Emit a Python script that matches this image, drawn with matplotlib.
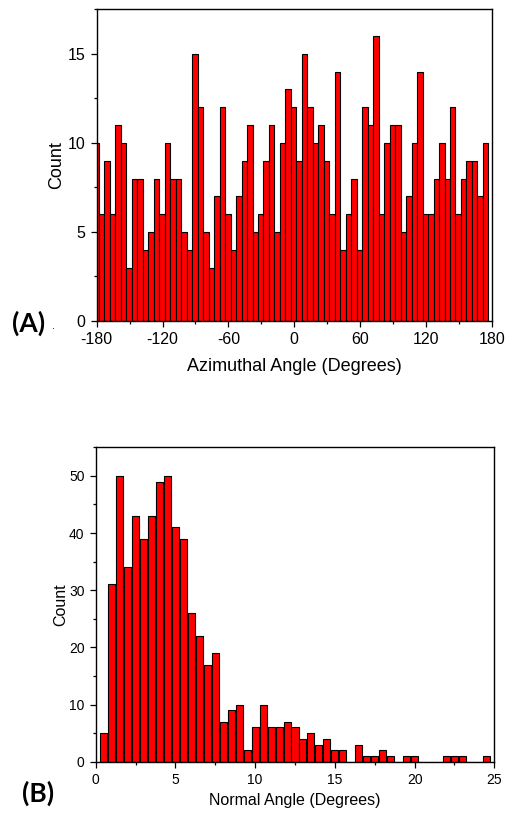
import numpy as np
import matplotlib
matplotlib.use("Agg")
import matplotlib.pyplot as plt
from matplotlib.ticker import MultipleLocator

plt.rcParams["font.family"] = ["Liberation Sans", "DejaVu Sans"]
plt.rcParams["axes.unicode_minus"] = False

# (A) azimuthal angle histogram: 5-degree bins
azimuth_bin_start = -180.5
azimuth_bin_width = 5.0
azimuth_counts = [
    10, 6, 9, 6, 11, 10, 3, 8, 8, 4,
    5, 8, 6, 10, 8, 8, 5, 4, 15, 12,
    5, 3, 7, 12, 6, 4, 7, 9, 11, 5,
    6, 9, 11, 5, 10, 13, 12, 9, 15, 12,
    10, 11, 9, 6, 14, 4, 6, 8, 4, 12,
    11, 16, 6, 10, 11, 11, 5, 7, 10, 14,
    6, 6, 8, 10, 8, 12, 6, 8, 9, 9,
    7, 10,
]
azimuth_ticks = [-180, -120, -60, 0, 60, 120, 180]

# (B) normal angle histogram: 0.5-degree bins
normal_bin_start = 0.5
normal_bin_width = 0.5
normal_counts = [
    5, 31, 50, 34, 43, 39, 43, 49, 50, 41,
    39, 26, 22, 17, 19, 7, 9, 10, 2, 6,
    10, 6, 6, 7, 6, 4, 5, 3, 4, 2,
    2, 0, 3, 1, 1, 2, 1, 0, 1, 1,
    0, 0, 0, 1, 1, 1, 0, 0, 1,
]
normal_ticks = [0, 5, 10, 15, 20, 25]

W, H = 507, 816
fig = plt.figure(figsize=(W / 100, H / 100), dpi=100)


def frac(left, top, right, bottom):
    return [left / W, 1 - bottom / H, (right - left) / W, (bottom - top) / H]


def style_axes(ax, tick_size):
    for s in ax.spines.values():
        s.set_linewidth(1.0)
        s.set_color("black")
    ax.tick_params(which="both", direction="out", top=False, right=False,
                   labelsize=tick_size, width=0.9, color="black")
    ax.tick_params(which="major", length=4.5)
    ax.tick_params(which="minor", length=2.5)


# ---- panel A ----
axA = fig.add_axes(frac(96.7, 9.3, 491.7, 321))
xa = azimuth_bin_start + azimuth_bin_width * np.arange(len(azimuth_counts))
axA.bar(xa, azimuth_counts, width=azimuth_bin_width, color="#ff0000",
        edgecolor="black", linewidth=0.8, align="center", zorder=2)
axA.set_xlim(-180, 180)
axA.set_ylim(0, 17.5)
axA.set_xticks(azimuth_ticks)
axA.xaxis.set_minor_locator(MultipleLocator(30))
axA.yaxis.set_major_locator(MultipleLocator(5))
axA.yaxis.set_minor_locator(MultipleLocator(2.5))
style_axes(axA, 11.5)
axA.set_xlabel("Azimuthal Angle (Degrees)", fontsize=13)
axA.set_ylabel("Count", fontsize=13)
axA.xaxis.set_label_coords(0.5, -0.118)
axA.yaxis.set_label_coords(-0.08, 0.5)

# ---- panel B ----
axB = fig.add_axes(frac(95.7, 447.3, 494.3, 761.7))
xb = normal_bin_start + normal_bin_width * np.arange(len(normal_counts))
axB.bar(xb, normal_counts, width=normal_bin_width * 0.88, color="#ff0000",
        edgecolor="black", linewidth=0.8, align="center", zorder=2)
axB.set_xlim(0, 25)
axB.set_ylim(0, 55)
axB.set_xticks(normal_ticks)
axB.xaxis.set_minor_locator(MultipleLocator(2.5))
axB.yaxis.set_major_locator(MultipleLocator(10))
axB.yaxis.set_minor_locator(MultipleLocator(5))
style_axes(axB, 10)
axB.set_xlabel("Normal Angle (Degrees)", fontsize=11.5)
axB.set_ylabel("Count", fontsize=11.5)
axB.xaxis.set_label_coords(0.5, -0.1)
axB.yaxis.set_label_coords(-0.068, 0.5)

# panel letters
letter_font = ["Lato", "DejaVu Sans"]
fig.text(12 / W, 1 - 323 / H, "(A)", fontsize=19, fontweight="bold",
         family=letter_font, ha="left", va="center")
fig.text(52 / W, 1 - 326 / H, ".", fontsize=8, ha="left", va="center")
fig.text(22 / W, 1 - 793 / H, "(B)", fontsize=19, fontweight="bold",
         family=letter_font, ha="left", va="center")

fig.savefig("out.png", dpi=100)
